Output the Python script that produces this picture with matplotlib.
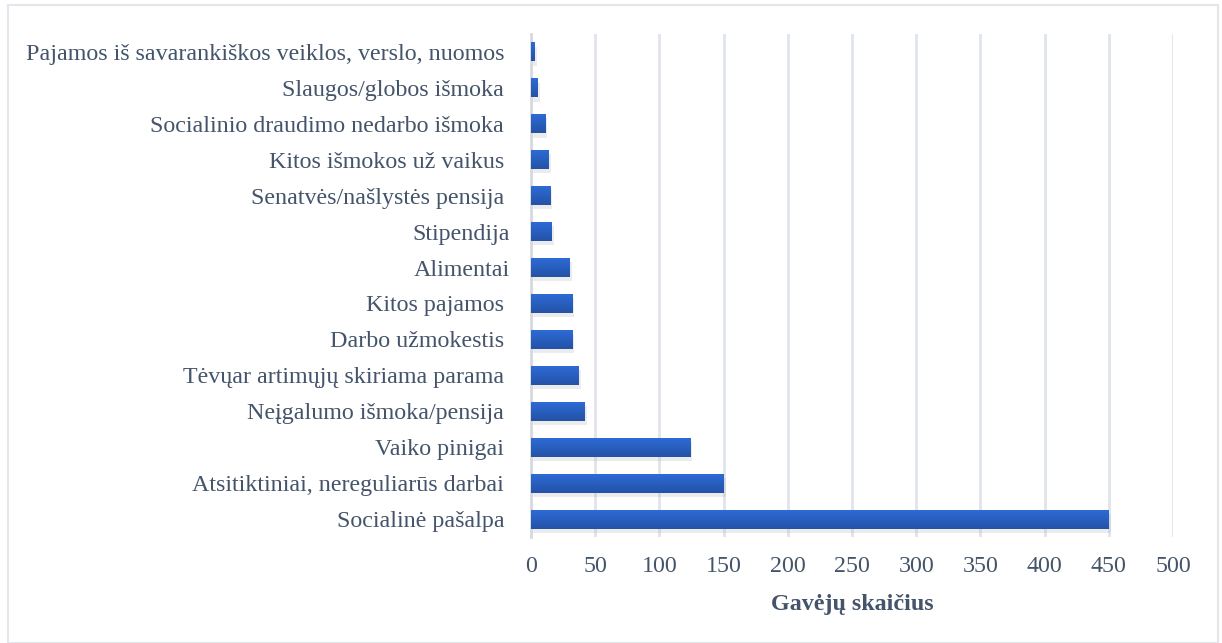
import numpy as np
import matplotlib
matplotlib.use("Agg")
from matplotlib import pyplot as plt
from matplotlib import patheffects as pe
from matplotlib.colors import LinearSegmentedColormap
from matplotlib.patches import Rectangle

# bottom -> top order (barh draws first item at the bottom)
categories = [
    "Socialinė pašalpa ",
    "Atsitiktiniai, nereguliarūs darbai ",
    "Vaiko pinigai ",
    "Neįgalumo išmoka/pensija ",
    "Tėvųar artimųjų skiriama parama ",
    "Darbo užmokestis ",
    "Kitos pajamos ",
    "Alimentai",
    "Stipendija",
    "Senatvės/našlystės pensija ",
    "Kitos išmokos už vaikus ",
    "Socialinio draudimo nedarbo išmoka ",
    "Slaugos/globos išmoka ",
    "Pajamos iš savarankiškos veiklos, verslo, nuomos ",
]
values = [450, 150, 124, 42, 37, 32, 32, 30, 16, 15, 14, 11, 5, 3]
xticks = [0, 50, 100, 150, 200, 250, 300, 350, 400, 450, 500]
xlabel = "Gavėjų skaičius"

plt.rcParams['font.family'] = ['Liberation Serif', 'DejaVu Serif']
txt_color = "#44546a"
grid_color = "#e0e4eb"

fig = plt.figure(figsize=(12.22, 6.43), dpi=100)
ax = fig.add_axes([531 / 1222, 1 - 537 / 643, (1173 - 531) / 1222, (537 - 34) / 643])

y = np.arange(len(categories))
bars = ax.barh(y, values, height=0.53, color="#2b5fc4", zorder=3)

# soft shadow + vertical gradient on each bar
grad = LinearSegmentedColormap.from_list("g", ["#2452a6", "#2e6cd9"])
gimg = np.linspace(0, 1, 64).reshape(-1, 1)
for b in bars:
    b.set_path_effects([pe.SimplePatchShadow(offset=(1.5, -3), shadow_rgbFace="#a0a0a0", alpha=0.2), pe.Normal()])
    x0, y0 = b.get_x(), b.get_y()
    im = ax.imshow(gimg, cmap=grad, aspect="auto", origin="lower",
                   extent=(x0, x0 + b.get_width(), y0, y0 + b.get_height()), zorder=4)
    im.set_clip_path(b)

ax.set_xlim(0, 500)
ax.set_ylim(-0.5, len(categories) - 0.5)
ax.set_xticks(xticks)
ax.set_yticks(y)
ax.set_yticklabels(categories)
ax.tick_params(axis="both", length=0, labelsize=17.25, colors=txt_color)
ax.tick_params(axis="x", pad=14)
ax.tick_params(axis="y", pad=15)
ax.grid(axis="x", color=grid_color, linewidth=2, zorder=0)
for s in ["top", "right", "bottom"]:
    ax.spines[s].set_visible(False)
ax.spines["left"].set_color("#d6d9de")
ax.spines["left"].set_linewidth(2)
ax.set_xlabel(xlabel, fontsize=17.25, fontweight="bold", color=txt_color, labelpad=12)

# outer chart border
fig.patches.append(Rectangle((8 / 1222, 0.0), 1210 / 1222, 1 - 5 / 643, transform=fig.transFigure,
                             fill=False, edgecolor="#e3e6eb", linewidth=1.5))

fig.savefig("out.png", dpi=100)
